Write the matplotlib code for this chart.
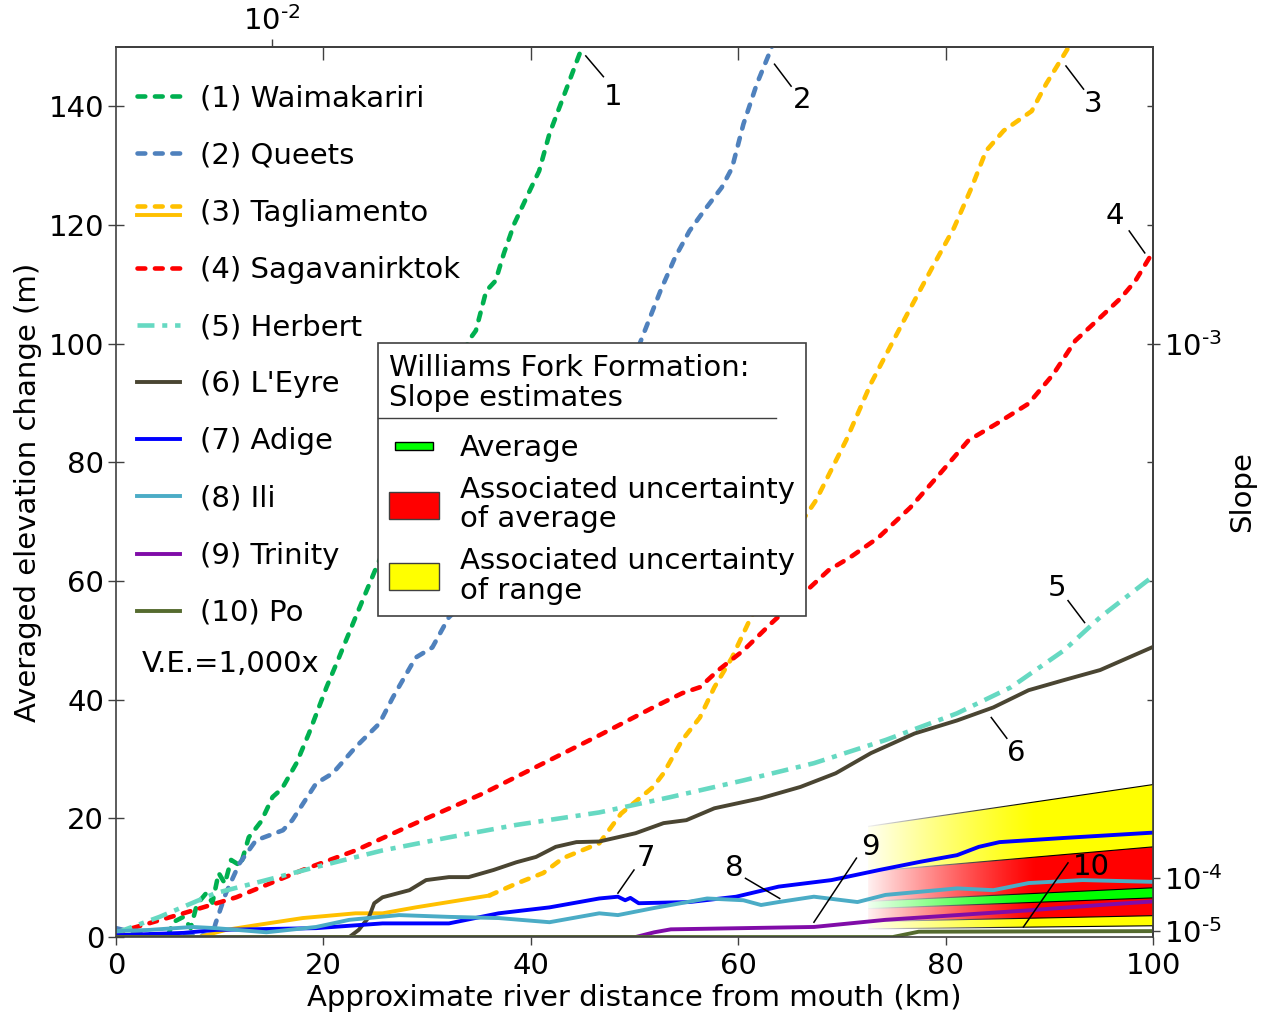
import numpy as np
import matplotlib
matplotlib.use("Agg")
import matplotlib.pyplot as plt
from matplotlib.lines import Line2D
from matplotlib.patches import Patch, Rectangle
from matplotlib.legend_handler import HandlerBase, HandlerPatch

FS = 21
plt.rcParams["font.family"] = ["DejaVu Sans"]
plt.rcParams["font.size"] = FS
plt.rcParams["mathtext.default"] = "regular"
plt.rcParams["axes.edgecolor"] = "#404040"
plt.rcParams["axes.linewidth"] = 1.2
plt.rcParams["xtick.color"] = "#404040"
plt.rcParams["ytick.color"] = "#404040"
plt.rcParams["xtick.labelcolor"] = "black"
plt.rcParams["ytick.labelcolor"] = "black"

# ---- river profiles: distance from mouth (km), averaged elevation change (m)
waim_x = [0, 4.5, 5.0, 5.5, 6.5, 7.2, 7.8, 8.7, 9.3, 9.9, 10.5, 11.1, 12.0, 12.8, 14.0, 15.1,
          16.0, 17.4, 18.6, 20.3, 21.5, 23.1, 25.1, 28.0, 31.0, 34.0, 34.7, 35.7, 36.6, 37.4,
          38.4, 39.9, 40.8, 41.8, 43.1, 44.8, 45.2]
waim_y = [0, 0, 0.2, 2.5, 3.4, 1.5, 5.5, 7.4, 5.8, 10.8, 9.0, 13.0, 12.0, 16.8, 19.5, 23.6,
          25.0, 29.3, 34.3, 42.1, 47.1, 53.9, 62.3, 74.0, 87.0, 100.5, 102.2, 108.9, 110.6, 115.2,
          120.2, 125.8, 129.1, 135.4, 141.4, 149.3, 151]

queets_x = [0, 1.9, 5.0, 9.3, 9.6, 10.6, 11.9, 13.5, 16.1, 17.0, 19.3, 20.9, 23.1, 25.4, 26.7,
            28.9, 30.5, 32.1, 32.8, 41.5, 50.5, 52.5, 53.9, 55.3, 56.7, 58.4, 59.4, 60.5, 61.8,
            63.2, 63.4]
queets_y = [1.5, 0.7, 0.2, 0.3, 2.3, 7.4, 12.4, 16.3, 18.0, 19.7, 25.9, 27.6, 32.0, 36.0, 40.4,
            47.1, 48.8, 53.9, 55.0, 78.0, 100.0, 108.9, 114.5, 119.0, 122.4, 126.3, 129.6, 137.0, 143.8,
            149.8, 151]

# Tagliamento: solid (lower reach) then dashed
tag_solid_x = [0, 8.0, 10.6, 13.5, 18.0, 23.1, 25.7, 28.9, 32.1, 36.0]
tag_solid_y = [0, 0, 1.2, 2.0, 3.2, 4.0, 4.0, 5.0, 5.9, 7.0]
tag_dash_x = [36.0, 38.6, 41.2, 43.1, 46.6, 48.7, 51.8, 52.8, 54.6, 56.3, 57.7, 59.4, 61.1, 62.5,
              66.0, 67.5, 70.4, 72.8, 76.3, 78.7, 80.8, 82.5, 83.9, 85.6, 88.3, 89.7, 91.8, 91.9]
tag_dash_y = [7.0, 9.0, 10.8, 13.3, 15.8, 20.8, 25.3, 27.6, 33.2, 37.0, 42.1, 47.1, 53.4, 57.9,
              69.7, 73.6, 83.7, 93.3, 105.0, 112.8, 119.5, 126.3, 132.5, 135.9, 139.2, 143.8, 149.8, 151]

saga_x = [0, 6.5, 11.6, 18.0, 23.1, 28.9, 35.4, 41.8, 46.6, 51.8, 54.6, 56.3, 58.1, 60.5, 63.2,
          66.3, 68.7, 70.8, 73.5, 76.6, 79.7, 82.2, 84.9, 88.0, 90.4, 92.5, 94.9, 96.9, 98.3, 100]
saga_y = [0.7, 4.0, 6.7, 11.3, 14.6, 19.2, 24.2, 29.8, 34.0, 38.7, 41.1, 42.1, 45.0, 48.3, 52.9,
          57.9, 61.8, 64.0, 67.3, 72.4, 78.6, 83.7, 86.5, 89.9, 94.9, 100.5, 104.4, 107.7, 110.6, 115.5]

herb_x = [0, 4.2, 9.6, 14.5, 19.3, 25.7, 32.1, 38.6, 46.6, 53.5, 60.5, 67.3, 74.2, 81.1, 86.3,
          91.4, 94.9, 100]
herb_y = [0.7, 3.4, 7.4, 9.6, 11.8, 14.6, 16.8, 18.9, 21.0, 23.6, 26.4, 29.3, 33.2, 37.7, 42.1,
          48.3, 53.9, 60.8]

eyre_x = [0, 22.5, 23.4, 24.4, 24.9, 25.7, 28.3, 29.9, 32.1, 34.0, 36.4, 38.6, 40.5, 42.4, 44.4,
          46.6, 50.1, 52.8, 55.0, 57.7, 62.2, 66.0, 69.4, 72.8, 77.0, 81.1, 84.6, 88.0, 91.4, 94.9, 100]
eyre_y = [0, 0, 1.2, 3.4, 5.7, 6.7, 7.9, 9.6, 10.1, 10.1, 11.3, 12.6, 13.5, 15.2, 16.0,
          16.1, 17.5, 19.2, 19.7, 21.7, 23.4, 25.3, 27.6, 31.0, 34.3, 36.5, 38.7, 41.6, 43.3, 45.0, 48.9]

adige_x = [0, 6.5, 9.6, 19.3, 25.7, 32.1, 36.9, 41.8, 46.6, 48.4, 49.1, 49.6, 50.4, 55.3, 59.8,
           63.9, 69.0, 73.6, 77.6, 81.1, 83.2, 85.2, 91.4, 100]
adige_y = [0.3, 0.7, 1.2, 1.5, 2.3, 2.3, 4.0, 5.0, 6.5, 6.8, 6.2, 6.6, 5.7, 5.9, 6.8,
           8.5, 9.6, 11.3, 12.7, 13.8, 15.2, 16.0, 16.7, 17.6]

ili_x = [0, 3.2, 7.4, 9.6, 14.5, 19.3, 22.5, 27.3, 32.1, 36.9, 41.8, 46.6, 48.4, 51.9, 57.0,
         60.5, 62.2, 63.9, 67.3, 71.5, 74.2, 81.1, 84.6, 88.0, 93.2, 100]
ili_y = [1.0, 1.2, 1.7, 1.5, 0.8, 1.7, 2.9, 3.7, 3.4, 3.2, 2.5, 4.0, 3.7, 4.9, 6.5,
         6.2, 5.4, 5.9, 6.8, 5.9, 7.1, 8.2, 7.9, 9.1, 9.6, 9.3]

trin_x = [0, 50.1, 51.9, 53.5, 67.3, 74.2, 81.1, 88.0, 94.9, 100]
trin_y = [0, 0, 0.8, 1.3, 1.7, 2.9, 3.7, 4.5, 5.4, 6.0]

po_x = [0, 74.9, 77.4, 100]
po_y = [0, 0, 0.9, 1.0]

# Williams Fork Formation slope estimates (low, high)
wf_range = (1.9e-5, 2.57e-4)
wf_avg_unc = (3.6e-5, 1.52e-4)
wf_avg = (6.6e-5, 8.3e-5)

names = ["(1) Waimakariri", "(2) Queets", "(3) Tagliamento", "(4) Sagavanirktok", "(5) Herbert",
         "(6) L'Eyre", "(7) Adige", "(8) Ili", "(9) Trinity", "(10) Po"]
colors = ["#00b050", "#4f81bd", "#ffc000", "#ff0000", "#66d9c2",
          "#4a4532", "#0000ff", "#4bacc6", "#800ca8", "#556b2f"]

dash = (0, (1.7, 2.1))
dashdot = (0, (3.7, 1.7, 1.1, 1.7))

fig = plt.figure(figsize=(12.65, 10.15), dpi=100)
ax = fig.add_axes([0.0917, 0.0768, 0.8198, 0.8769])

# wedge of slope estimates, faded toward upstream
wx = np.linspace(72.0, 100, 200)
for (lo, hi), c in [(wf_range, "#ffff00"), (wf_avg_unc, "#ff0000"), (wf_avg, "#00ff00")]:
    ax.fill_between(wx, lo * wx * 1000, hi * wx * 1000, facecolor=c, linewidth=0, zorder=1)
    for s in (lo, hi):
        ax.plot(wx, s * wx * 1000, color="black", lw=0.8, zorder=1.2)
ramp = np.linspace(72.0, 100, 400)
fade = np.ones((1, ramp.size, 4))
fade[0, :, 3] = np.where(ramp < 73, 1.0,
                         0.95 * np.clip((89 - ramp) / (89 - 73.0), 0, 1) ** 1.2)
ax.imshow(fade, extent=[71.5, 100.2, -0.5, 27], aspect="auto", zorder=1.5,
          interpolation="bilinear")

lw_d = 3.3
lw_s = 2.8
l1, = ax.plot(waim_x, waim_y, color=colors[0], lw=lw_d, ls=dash, dash_capstyle="round")
l2, = ax.plot(queets_x, queets_y, color=colors[1], lw=lw_d, ls=dash, dash_capstyle="round")
l3s, = ax.plot(tag_solid_x, tag_solid_y, color=colors[2], lw=lw_s)
l3d, = ax.plot(tag_dash_x, tag_dash_y, color=colors[2], lw=lw_d, ls=dash, dash_capstyle="round")
l4, = ax.plot(saga_x, saga_y, color=colors[3], lw=lw_d, ls=dash, dash_capstyle="round")
l5, = ax.plot(herb_x, herb_y, color=colors[4], lw=lw_d, ls=dashdot)
l6, = ax.plot(eyre_x, eyre_y, color=colors[5], lw=lw_s)
l7, = ax.plot(adige_x, adige_y, color=colors[6], lw=lw_s)
l8, = ax.plot(ili_x, ili_y, color=colors[7], lw=lw_s)
l9, = ax.plot(trin_x, trin_y, color=colors[8], lw=lw_s)
l10, = ax.plot(po_x, po_y, color=colors[9], lw=lw_s)

# curve numbers with leader lines
tags = [("1", 47.9, 141.5, 45.3, 148.5, 47.0, 145.0),
        ("2", 66.2, 141.0, 63.5, 147.1, 65.1, 143.4),
        ("3", 94.2, 140.4, 91.6, 146.8, 93.3, 142.9),
        ("4", 96.3, 121.5, 97.7, 119.0, 99.2, 115.3),
        ("5", 90.7, 58.8, 91.8, 56.7, 93.4, 53.0),
        ("6", 86.8, 31.0, 84.4, 37.0, 85.9, 33.5),
        ("7", 51.1, 13.3, 49.95, 11.3, 48.4, 7.4),
        ("8", 59.6, 11.6, 60.7, 9.9, 64.0, 6.5),
        ("9", 72.7, 15.2, 71.4, 13.3, 67.3, 2.5),
        ("10", 94.0, 11.8, 91.8, 12.5, 87.5, 1.7)]
for t, tx, ty, x0, y0, x1, y1 in tags:
    ax.plot([x0, x1], [y0, y1], color="black", lw=1.1, zorder=3)
    ax.text(tx, ty, t, ha="center", va="center", fontsize=FS, zorder=3)

ax.text(2.5, 46, "V.E.=1,000x", ha="left", va="center", fontsize=FS)

ax.set_xlim(0, 100)
ax.set_ylim(0, 150)
ax.set_xticks([0, 20, 40, 60, 80, 100])
ax.set_yticks(range(0, 141, 20))
ax.tick_params(axis="y", direction="inout", length=11, width=1, pad=3, labelsize=FS)
ax.tick_params(axis="x", direction="out", length=6, width=1, pad=5, labelsize=FS)
ax.set_xlabel("Approximate river distance from mouth (km)", fontsize=FS, labelpad=3)
ax.set_ylabel("Averaged elevation change (m)", fontsize=FS, labelpad=5)

# mirrored ticks on top and right
top = ax.secondary_xaxis("top")
top.set_xticks([20, 40, 60, 80])
top.set_xticklabels([])
top.tick_params(direction="in", length=9, width=1)
right = ax.secondary_yaxis("right")
right.set_yticks(range(20, 141, 20))
right.set_yticklabels([])
right.tick_params(direction="in", length=4.5, width=1)

# slope scale: line from the origin reaching the frame
ymax = 150
slope_top = [1e-2]
top2 = ax.secondary_xaxis("top")
top2.set_xticks([ymax / (s * 1000) for s in slope_top])
top2.set_xticklabels(["$10^{\u20102}$"])
top2.tick_params(direction="out", length=6, width=1, pad=2, labelsize=FS)

slope_right = [1e-5, 1e-4, 1e-3]
right2 = ax.secondary_yaxis("right", functions=(lambda y: y / 1e5, lambda s: s * 1e5))
right2.set_yticks(slope_right)
right2.set_yticklabels(["$10^{\u20105}$", "$10^{\u20104}$", "$10^{\u20103}$"])
right2.tick_params(direction="out", length=5, width=1, pad=3, labelsize=FS)
right2.set_ylabel("Slope", fontsize=FS, labelpad=4)


class DoubleLineHandler(HandlerBase):
    def create_artists(self, legend, orig_handle, xdescent, ydescent, width, height,
                       fontsize, trans):
        upper, lower = orig_handle
        y = height / 2 - ydescent
        off = 0.2 * height
        out = []
        for src, dy in [(upper, off), (lower, -off)]:
            ln = Line2D([-xdescent, width - xdescent], [y + dy, y + dy])
            ln.update_from(src)
            ln.set_transform(trans)
            out.append(ln)
        return out


def thin_patch(legend, orig_handle, xdescent, ydescent, width, height, fontsize):
    return Rectangle((-xdescent + 0.12 * width, -ydescent + 0.36 * height),
                     0.76 * width, 0.28 * height)


avg_h = Patch(facecolor="#00ff00", edgecolor="black", linewidth=1)
unc_h = Patch(facecolor="#ff0000", edgecolor="#404040", linewidth=1)
rng_h = Patch(facecolor="#ffff00", edgecolor="#404040", linewidth=1)
leg2 = ax.legend([avg_h, unc_h, rng_h],
                 ["Average", "Associated uncertainty\nof average", "Associated uncertainty\nof range"],
                 title="Williams Fork Formation:\nSlope estimates", alignment="left",
                 title_fontsize=FS, fontsize=FS, loc="upper left",
                 bbox_to_anchor=(0.2527, 0.6674), borderaxespad=0, fancybox=False,
                 edgecolor="#404040", framealpha=1, handlelength=1.7, handleheight=1.06,
                 handletextpad=0.72, borderpad=0.38, labelspacing=0.47,
                 handler_map={avg_h: HandlerPatch(patch_func=thin_patch)})
leg2.get_frame().set_linewidth(1.2)
leg2.set_zorder(5)
for t in leg2.get_texts():
    t.set_linespacing(1.07)
leg2.get_title().set_linespacing(1.07)
leg2._legend_box.sep = 15

leg1 = ax.legend([l1, l2, (l3d, l3s), l4, l5, l6, l7, l8, l9, l10], names,
                 loc="upper left", bbox_to_anchor=(0.0203, 0.958), frameon=False,
                 fontsize=FS, handlelength=1.47, handletextpad=0.68, labelspacing=1.0,
                 borderpad=0, borderaxespad=0, handler_map={tuple: DoubleLineHandler()})
ax.add_artist(leg2)

# rule under the title of the slope legend
fig.canvas.draw()
bb = leg2.get_window_extent()
tb = leg2.get_title().get_window_extent()
inv = fig.transFigure.inverted()
ysep = tb.y0 - 6
p0 = inv.transform((bb.x0, ysep))
p1 = inv.transform((bb.x0 + 0.93 * bb.width, ysep))
fig.add_artist(Line2D([p0[0], p1[0]], [p0[1], p1[1]], color="#404040", lw=1.0, zorder=10))

fig.savefig("out.png", dpi=100)
